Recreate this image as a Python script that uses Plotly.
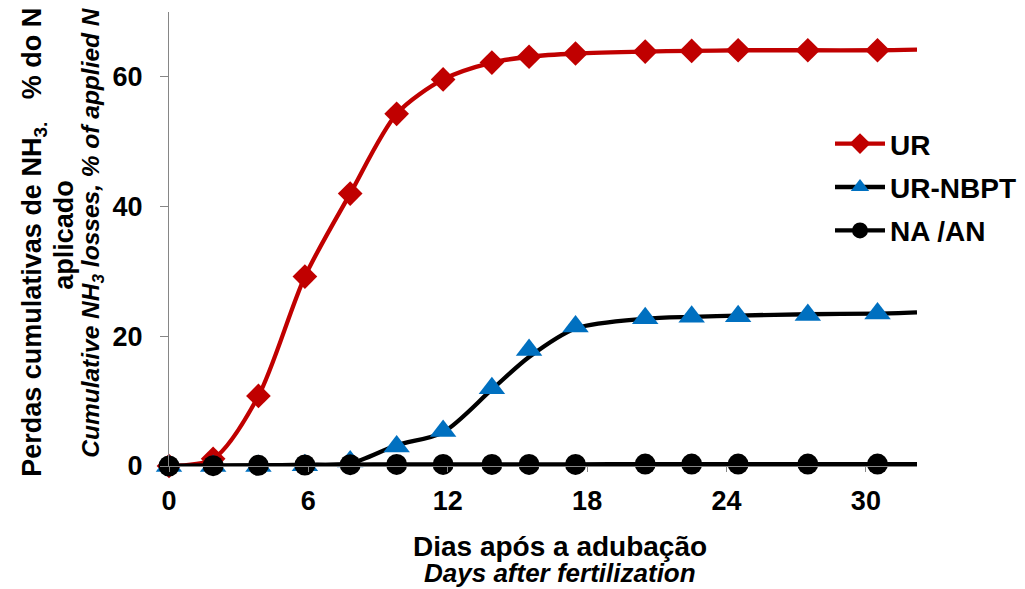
import plotly.graph_objects as go

# Observed data (days after fertilization)
days = [0, 1.9, 3.85, 5.85, 7.8, 9.8, 11.8, 13.9, 15.5, 17.5, 20.5, 22.5, 24.5, 27.5, 30.5]
ur = [0, 1.1, 10.8, 29.2, 42.0, 54.3, 59.6, 62.2, 63.1, 63.6, 63.9, 64.0, 64.1, 64.1, 64.1]
ur_nbpt = [0, 0, 0, 0.1, 0.7, 3.0, 5.4, 12.0, 17.9, 21.5, 22.8, 23.0, 23.1, 23.3, 23.5]
na_an = [0, 0.05, 0.1, 0.15, 0.2, 0.25, 0.25, 0.25, 0.25, 0.25, 0.3, 0.3, 0.3, 0.3, 0.3]

# Fitted curves
curve_days = [0, 1.9, 3.85, 5.85, 7.8, 9.8, 11.8, 13.9, 15.5, 17.5, 20.5, 22.5, 24.5, 27.5, 30.5, 32.2]
ur_curve = [0, 1.1, 10.8, 29.2, 42.0, 54.3, 59.6, 62.2, 63.1, 63.6, 63.9, 64.0, 64.1, 64.1, 64.1, 64.2]
ur_nbpt_curve = [0, 0.05, 0.1, 0.2, 0.4, 3.2, 5.2, 11.8, 16.8, 21.2, 22.7, 23.0, 23.2, 23.4, 23.5, 23.7]
na_an_curve = [0, 0.05, 0.1, 0.15, 0.2, 0.25, 0.25, 0.25, 0.25, 0.25, 0.3, 0.3, 0.3, 0.3, 0.3, 0.3]

names = ["UR", "UR-NBPT", "NA /AN"]
x_ticks = [0, 6, 12, 18, 24, 30]
y_ticks = [0, 20, 40, 60]

RED = "#C00000"
BLUE = "#0070C0"
BLACK = "#000000"
FONT = "Arial, Liberation Sans, sans-serif"

# page offset (default body margin of the html page)
OFF = 8
W, H = 1025 - OFF, 589 - OFF
# plot area in page pixels
PL, PR, PT, PB = 169, 917, 12, 466.5
PW, PH = PR - PL, PB - PT

fig = go.Figure()

series = [
    (names[0], ur, ur_curve, RED, RED, "diamond", 19),
    (names[1], ur_nbpt, ur_nbpt_curve, BLACK, BLUE, "triangle-up", 23),
    (names[2], na_an, na_an_curve, BLACK, BLACK, "circle", 21),
]

for name, vals, curve, lc, mc, sym, sz in series:
    fig.add_trace(go.Scatter(
        x=curve_days, y=curve, mode="lines",
        line=dict(color=lc, width=4.3, shape="spline", smoothing=0.8),
        showlegend=False, cliponaxis=False, hoverinfo="skip"))
    fig.add_trace(go.Scatter(
        x=days, y=vals, mode="markers",
        marker=dict(color=mc, symbol=sym, size=sz, line=dict(width=0)),
        showlegend=False, cliponaxis=False, name=name))
    fig.add_trace(go.Scatter(
        x=[None], y=[None], mode="lines+markers", name=name,
        line=dict(color=lc, width=4.3),
        marker=dict(color=mc, symbol=sym, size=sz, line=dict(width=0)),
        legendgroup=name, showlegend=True))

axis_common = dict(
    showgrid=False, zeroline=False, showline=True, linecolor="#868686", linewidth=1,
    ticks="outside", tickcolor="#868686", tickwidth=1,
    tickfont=dict(family=FONT, size=27, color="black", weight="bold"),
)

fig.update_xaxes(range=[0, 32.2], tickvals=x_ticks, ticklen=5, ticklabelstandoff=6, **axis_common)
fig.update_yaxes(range=[0, 70], tickvals=y_ticks, ticklen=8, ticklabelstandoff=12, **axis_common)


def px(xp):
    return (xp - PL) / PW


def py(yp):
    return (PB - yp) / PH


annos = [
    ("<b>Perdas cumulativas de NH<sub>3.</sub>\u00a0\u00a0\u00a0% do N</b>", 34, 243, 27),
    ("<b>aplicado</b>", 64, 235, 27),
    ("<b><i>Cumulative NH<sub>3</sub> losses, % of applied N</i></b>", 93, 233, 24.5),
]
for text, xx, yy, fs in annos:
    fig.add_annotation(text=text, xref="paper", yref="paper", x=px(xx), y=py(yy),
                       textangle=-90, showarrow=False, xanchor="center", yanchor="middle",
                       font=dict(family=FONT, size=fs, color="black"))

fig.add_annotation(text="<b>Dias após a adubação</b>", xref="paper", yref="paper",
                   x=px(560), y=py(547), showarrow=False, xanchor="center", yanchor="middle",
                   font=dict(family=FONT, size=28, color="black"))
fig.add_annotation(text="<b><i>Days after fertilization</i></b>", xref="paper", yref="paper",
                   x=px(560), y=py(574), showarrow=False, xanchor="center", yanchor="middle",
                   font=dict(family=FONT, size=26, color="black"))

fig.update_layout(
    width=W, height=H,
    margin=dict(l=PL - OFF, r=1025 - PR, t=PT - OFF, b=589 - PB, autoexpand=False),
    plot_bgcolor="white", paper_bgcolor="white",
    legend=dict(x=px(830), y=py(119), xanchor="left", yanchor="top", itemwidth=50,
                traceorder="grouped", tracegroupgap=4,
                bgcolor="rgba(0,0,0,0)",
                font=dict(family=FONT, size=28, color="black", weight="bold")),
)

fig.write_html("out.html")
